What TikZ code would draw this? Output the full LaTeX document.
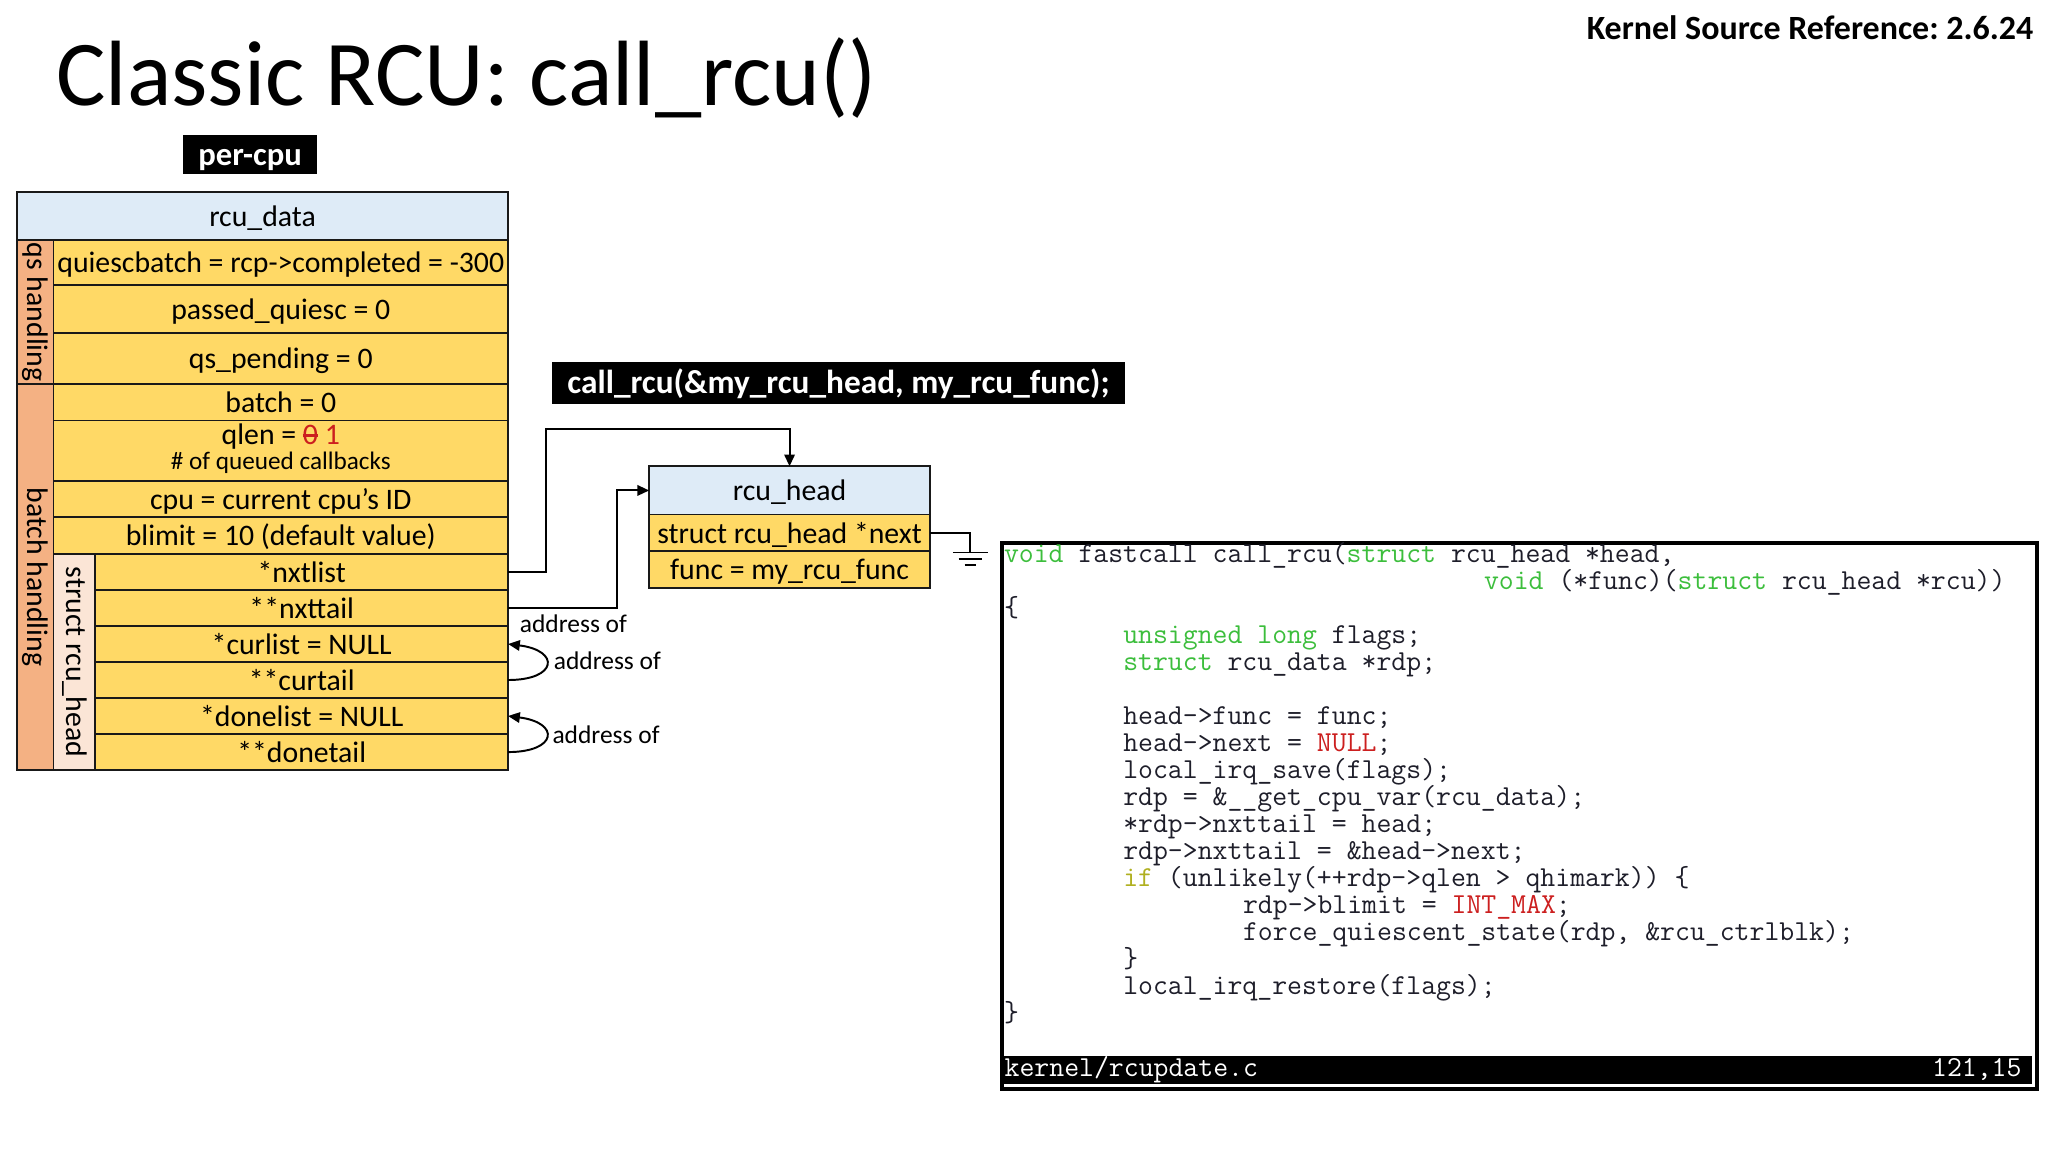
\documentclass[tikz,border=0pt]{standalone}
\usepackage{fontspec}
\setmainfont{Carlito}
\usetikzlibrary{arrows.meta,calc}
\definecolor{hdrblue}{HTML}{DEEBF7}
\definecolor{cellyel}{HTML}{FFD966}
\definecolor{sideorange}{HTML}{F4B183}
\definecolor{sidepink}{HTML}{FBE5D6}
\definecolor{codegreen}{HTML}{3CBE3C}
\definecolor{codeyellow}{HTML}{B0B020}
\definecolor{codered}{HTML}{CC1F1F}
\definecolor{codeink}{HTML}{1E1E2A}
\newcommand\myTabFont{\fontsize{22.8}{27}\selectfont}
\newcommand\mySmallFont{\fontsize{19.5}{23}\selectfont}
\newcommand\myCodeFont{\ttfamily\fontsize{22.15}{23}\selectfont}
\newcommand\kwg[1]{{\color{codegreen}#1}}
\newcommand\kwy[1]{{\color{codeyellow}#1}}
\newcommand\kwr[1]{{\color{codered}#1}}
\newcommand\myStrike[1]{\leavevmode\setbox0=\hbox{#1}\rlap{\vrule height 0.34em depth -0.27em width \wd0}\box0\relax}
\frenchspacing
\begin{document}
\begin{tikzpicture}[x=1pt,y=-1pt,
  tcell/.style={draw=black!90, line width=1.3pt, inner sep=0pt, outer sep=0pt, anchor=north west, font=\myTabFont, text height=21.7pt, text depth=6.1pt},
  yel/.style={tcell, fill=cellyel},
  hdr/.style={tcell, fill=hdrblue},
  sidebox/.style={draw=black!90, line width=1.3pt, inner sep=0pt, outer sep=0pt, anchor=north west},
  sidelabel/.style={rotate=-90, font=\myTabFont, inner sep=0pt},
  conn/.style={line width=1.5pt, draw=black},
  arr/.style={-{Triangle[length=9pt,width=8pt]}},
  blackbox/.style={fill=black, text=white, inner sep=0pt, font=\bfseries},
  addr/.style={font=\mySmallFont, inner sep=0pt},
  code/.style={anchor=base west, inner sep=0pt, font=\myCodeFont, text=codeink},
]
\fill[white] (0,0) rectangle (1568,882);
\useasboundingbox (0,0) rectangle (1568,882);

% titles
\node[anchor=base west, inner sep=0pt, font=\fontsize{71}{80}\selectfont] (title) at (43,80.5) {Classic RCU: call\_rcu()};
\node[anchor=base east, inner sep=0pt, font=\bfseries\fontsize{26}{30}\selectfont] (ksr) at (1557,30.6) {Kernel Source Reference: 2.6.24};

\node[blackbox, minimum width=103, minimum height=30, text height=24pt, text depth=6pt, font=\bfseries\fontsize{25}{30}\selectfont] (percpu) at (191.5,118) {per-cpu};
\node[blackbox, minimum width=438, minimum height=30.5, text height=23.8pt, text depth=8pt, font=\bfseries\fontsize{25.5}{30}\selectfont] (callbox) at (642,293.3) {call\_rcu(\&my\_rcu\_head, my\_rcu\_func);};

% rcu_data table
\node[sidebox, fill=sideorange, minimum width=28, minimum height=110] (qsh) at (13,184) {};
\node[sidelabel] (qshl) at (qsh.center) {qs handling};
\node[sidebox, fill=sideorange, minimum width=28, minimum height=295.5] (bh) at (13,294) {};
\node[sidelabel] (bhl) at (bh.center) {batch handling};
\node[sidebox, fill=sidepink, minimum width=32, minimum height=165.5] (srh) at (41,424) {};
\node[sidelabel] (srhl) at (srh.center) {struct rcu\_head};

\node[hdr, minimum width=376, minimum height=37] (rd) at (13,147) {rcu\_data};
\node[yel, minimum width=348, minimum height=34] (q1) at (41,184) {quiescbatch = rcp->completed = -300};
\node[yel, minimum width=348, minimum height=37] (q2) at (41,218) {passed\_quiesc = 0};
\node[yel, minimum width=348, minimum height=39] (q3) at (41,255) {qs\_pending = 0};
\node[yel, minimum width=348, minimum height=28] (b1) at (41,294) {batch = 0};
\node[yel, minimum width=348, minimum height=46] (b2) at (41,322) {};
\node[font=\myTabFont, inner sep=0pt] (b2a) at (215,334.3) {qlen = {\color{codered}\myStrike{0} 1}};
\node[font=\fontsize{19.3}{23}\selectfont, inner sep=0pt] (b2b) at (215,354) {\# of queued callbacks};
\node[yel, minimum width=348, minimum height=28] (b3) at (41,368) {cpu = current cpu’s ID};
\node[yel, minimum width=348, minimum height=28] (b4) at (41,396) {blimit = 10 (default value)};
\node[yel, minimum width=316, minimum height=27.58] (s1) at (73,424) {*nxtlist};
\node[yel, minimum width=316, minimum height=27.58] (s2) at (73,451.58) {**nxttail};
\node[yel, minimum width=316, minimum height=27.58] (s3) at (73,479.16) {*curlist = NULL};
\node[yel, minimum width=316, minimum height=27.58] (s4) at (73,506.74) {**curtail};
\node[yel, minimum width=316, minimum height=27.58] (s5) at (73,534.32) {*donelist = NULL};
\node[yel, minimum width=316, minimum height=27.58] (s6) at (73,561.9) {**donetail};

% rcu_head box
\node[hdr, minimum width=215, minimum height=37] (rhh) at (497,357) {rcu\_head};
\node[yel, minimum width=215, minimum height=28] (rhn) at (497,394) {struct rcu\_head *next};
\node[yel, minimum width=215, minimum height=28] (rhf) at (497,422) {func = my\_rcu\_func};

% connectors
\coordinate (k1) at (418,328.5);
\draw[conn, arr] (s1.east) -| (k1) -| (rhh.north);
\coordinate (k2) at (472.7,420);
\draw[conn, arr] (s2.east) -| (k2) |- (rhh.west);
\node[addr] (addr1) at (439,477.5) {address of};

\draw[conn, arr] (s4.east) .. controls +(38,0) and +(40,5) .. (s3.east);
\node[addr] (addr2) at (465,506) {address of};
\draw[conn, arr] (s6.east) .. controls +(38,0) and +(40,5) .. (s5.east);
\node[addr] (addr3) at (464,562.5) {address of};

% ground
\coordinate (gnd) at (743,423);
\draw[conn] (rhn.east) -| (gnd);
\draw[conn] ($(gnd)+(-13.5,0)$) -- ($(gnd)+(13.5,0)$);
\draw[conn] ($(gnd)+(-9,5)$) -- ($(gnd)+(9,5)$);
\draw[conn] ($(gnd)+(-4.5,9.6)$) -- ($(gnd)+(4.5,9.6)$);

% code box
\node[draw=black, line width=3pt, inner sep=0pt, anchor=north west, minimum width=792.5, minimum height=418.5] (codebox) at (765.5,414) {};
\node[fill=black, inner sep=0pt, anchor=north west, minimum width=787.5, minimum height=21.5] (bar) at (768,808) {};
\node[anchor=west, inner sep=0pt, font=\myCodeFont, text=white] (fname) at ([xshift=1pt]bar.west) {kernel/rcupdate.c};
\node[anchor=east, inner sep=0pt, font=\myCodeFont, text=white] (pos) at ([xshift=-8pt]bar.east) {121,15};

\node[code] (c1) at (768.5,431.0) {\kwg{void} fastcall call\_rcu(\kwg{struct} rcu\_head *head,};
\node[code] (c2) at (1136,451.65) {\kwg{void} (*func)(\kwg{struct} rcu\_head *rcu))};
\node[code] (c3) at (768.5,472.3) {\{};
\node[code] (c4) at (859.8,492.95) {\kwg{unsigned} \kwg{long} flags;};
\node[code] (c5) at (859.8,513.6) {\kwg{struct} rcu\_data *rdp;};
\node[code] (c7) at (859.8,554.9) {head->func = func;};
\node[code] (c8) at (859.8,575.55) {head->next = \kwr{NULL};};
\node[code] (c9) at (859.8,596.2) {local\_irq\_save(flags);};
\node[code] (c10) at (859.8,616.85) {rdp = \&\_\_get\_cpu\_var(rcu\_data);};
\node[code] (c11) at (859.8,637.5) {*rdp->nxttail = head;};
\node[code] (c12) at (859.8,658.15) {rdp->nxttail = \&head->next;};
\node[code] (c13) at (859.8,678.8) {\kwy{if} (unlikely(++rdp->qlen > qhimark)) \{};
\node[code] (c14) at (951.5,699.45) {rdp->blimit = \kwr{INT\_MAX};};
\node[code] (c15) at (951.5,720.1) {force\_quiescent\_state(rdp, \&rcu\_ctrlblk);};
\node[code] (c16) at (859.8,740.75) {\}};
\node[code] (c17) at (859.8,761.4) {local\_irq\_restore(flags);};
\node[code] (c18) at (768.5,782.05) {\}};
\end{tikzpicture}
\end{document}
